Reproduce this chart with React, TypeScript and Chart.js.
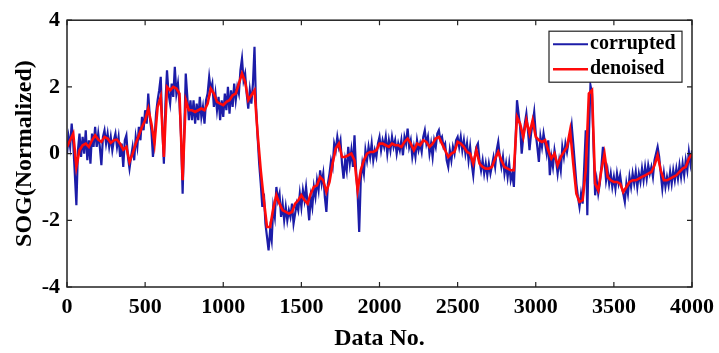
import React, { useEffect, useRef } from "react";
import { Chart, registerables } from "chart.js";

Chart.register(...registerables);

const seriesLabels = ["corrupted", "denoised"];
const seriesColors = ["#1c1ca8", "#ff0a0a"];
const xTicks = [0, 500, 1000, 1500, 2000, 2500, 3000, 3500, 4000];
const yTicks = [-4, -2, 0, 2, 4];
const corruptedStep = 10;
const denoisedStep = 20;

const corrupted = [
  0.0, 0.5, 0.2, 0.9, 0.3, -0.6, -1.55, 0.1, 0.6, -0.1, 0.5, 0.0, 0.7, -0.2, 0.4, -0.3, 0.6, 0.2, 0.8, 0.2,
  0.6, 0.2, -0.35, 0.5, 0.7, 0.3, 0.6, 0.2, 0.5, 0.1, 0.4, 0.6, 0.2, 0.5, -0.1, 0.3, -0.4, 0.4, 0.55, -0.1,
  -0.45, -0.1, 0.2, -0.2, 0.5, 0.2, 0.8, 0.4, 1.1, 0.7, 1.3, 0.9, 1.8, 1.1, 0.7, -0.1, 0.4, 1.2, 1.6, 1.9,
  2.3, 0.8, -0.3, 1.5, 2.5, 1.8, 1.5, 2.1, 1.7, 2.6, 1.8, 2.1, 1.5, 0.5, -1.2, 0.6, 2.4, 1.7, 1.0, 1.6,
  1.0, 1.6, 0.9, 1.5, 1.0, 1.7, 1.1, 1.4, 0.9, 1.6, 1.8, 2.3, 1.9, 2.1, 1.4, 1.8, 1.3, 1.7, 1.0, 1.6,
  1.1, 1.8, 1.3, 2.0, 1.2, 1.9, 1.4, 2.1, 1.6, 2.0, 1.8, 2.5, 2.85, 2.2, 2.4, 1.8, 1.35, 1.9, 1.5, 2.1,
  3.2, 1.4, 0.5, -0.3, -0.9, -1.6, -1.2, -2.1, -2.5, -2.9, -2.3, -2.6, -1.6, -1.9, -1.0, -1.4, -1.2, -1.9, -1.5, -2.0,
  -1.6, -2.0, -1.7, -1.9, -1.5, -2.1, -1.8, -1.5, -1.7, -1.2, -1.6, -1.1, -1.4, -1.0, -1.5, -2.0, -1.3, -1.6, -1.0, -1.3,
  -0.8, -1.1, -0.5, -0.9, -0.6, -1.3, -1.75, -0.9, -0.6, -0.2, -0.4, 0.3, 0.1, 0.5, 0.2, 0.4, -0.3, -0.75, -0.2, -0.5,
  0.2, -0.3, 0.1, -0.4, 0.55, -0.5, -1.2, -2.35, -0.8, -0.3, -0.6, 0.1, -0.2, 0.2, -0.1, 0.3, -0.2, 0.1, -0.1, 0.3,
  0.5, 0.1, 0.4, 0.2, 0.5, 0.0, 0.4, 0.1, 0.5, 0.2, 0.4, 0.0, 0.3, 0.1, 0.4, -0.05, 0.5, 0.3, 0.75, 0.2,
  0.4, -0.1, 0.2, -0.1, 0.4, 0.1, 0.3, 0.05, 0.5, 0.7, 0.3, 0.5, 0.0, 0.3, -0.1, 0.4, 0.2, 0.6, 0.7, 0.4,
  0.5, 0.2, 0.3, -0.2, -0.4, 0.1, -0.2, 0.2, 0.0, 0.4, 0.5, 0.2, 0.5, 0.1, 0.4, 0.0, 0.3, -0.2, 0.2, -0.3,
  -0.65, -0.1, 0.2, 0.3, -0.2, -0.5, -0.2, -0.6, -0.3, -0.65, -0.3, -0.6, -0.35, -0.1, -0.4, 0.1, 0.35, -0.1, -0.4, -0.1,
  -0.6, -0.3, -0.7, -0.3, -0.8, -0.6, -1.0, 0.3, 1.6, 1.2, 0.8, 0.0, 0.5, 0.9, 1.2, 0.7, 0.1, 0.6, 0.9, 1.25,
  0.6, 0.2, -0.25, 0.5, 0.2, 0.6, 0.3, 0.0, 0.4, -0.65, -0.1, -0.4, 0.1, -0.2, -0.6, -0.2, -0.5, 0.2, -0.1, 0.3,
  0.05, 0.35, 0.5, 0.85, 0.3, -0.3, -0.9, -1.3, -1.6, -1.2, -1.5, -0.4, 0.7, -1.85, 0.5, 2.05, 1.8, 0.2, -1.25, -0.8,
  -1.2, -0.9, -0.4, 0.2, -0.2, -0.8, -0.5, -0.9, -0.6, -1.0, -0.7, -1.05, -0.6, -0.9, -0.65, -1.0, -1.2, -1.45, -0.9, -1.2,
  -0.7, -1.0, -0.6, -0.9, -0.55, -1.0, -0.6, -0.85, -0.45, -0.8, -0.4, -0.75, -0.35, -0.6, -0.4, -0.7, -0.2, 0.0, 0.2, -0.1,
  -0.6, -1.05, -0.6, -1.0, -0.7, -0.95, -0.55, -0.9, -0.5, -0.8, -0.45, -0.75, -0.35, -0.7, -0.3, -0.65, -0.2, -0.5, 0.05, -0.3,
  0.1,
];

const denoised = [
  0.2, 0.4, 0.6, -0.4, 0.1, 0.25, 0.3, 0.2, 0.4, 0.55,
  0.42, 0.35, 0.5, 0.45, 0.32, 0.4, 0.42, 0.3, 0.12, 0.2,
  -0.25, 0.0, 0.3, 0.55, 0.8, 1.0, 1.35, 0.9, 0.3, 1.4,
  1.7, -0.1, 2.0, 1.9, 2.0, 1.95, 1.8, -0.8, 1.6, 1.3,
  1.3, 1.25, 1.3, 1.35, 1.3, 1.5, 1.95, 1.8, 1.55, 1.5,
  1.45, 1.55, 1.6, 1.75, 1.8, 2.1, 2.4, 2.15, 1.6, 1.75,
  1.9, 0.6, -0.5, -1.4, -2.2, -2.2, -1.65, -1.25, -1.5, -1.7,
  -1.75, -1.8, -1.75, -1.5, -1.4, -1.25, -1.4, -1.5, -1.2, -1.0,
  -0.95, -0.7, -0.8, -1.15, -0.85, -0.3, 0.15, 0.3, -0.1, -0.1,
  -0.05, 0.0, -0.2, -1.1, -0.5, -0.2, 0.0, 0.05, 0.05, 0.1,
  0.3, 0.3, 0.25, 0.2, 0.3, 0.25, 0.25, 0.2, 0.35, 0.45,
  0.3, 0.1, 0.3, 0.25, 0.4, 0.35, 0.2, 0.3, 0.45, 0.5,
  0.3, 0.1, -0.1, 0.0, 0.05, 0.35, 0.3, 0.2, 0.05, 0.0,
  -0.3, 0.1, -0.3, -0.4, -0.45, -0.45, -0.4, -0.15, 0.05, -0.2,
  -0.4, -0.45, -0.5, -0.5, 1.1, 0.9, 0.5, 1.0, 0.6, 1.0,
  0.5, 0.4, 0.35, 0.4, 0.1, -0.15, 0.0, -0.35, -0.1, 0.05,
  0.2, 0.7, -0.3, -1.2, -1.45, -1.4, -0.5, 1.8, 1.9, -0.9,
  -1.1, -0.5, 0.0, -0.7, -0.8, -0.85, -0.85, -0.9, -1.15, -1.0,
  -0.85, -0.8, -0.8, -0.75, -0.7, -0.65, -0.6, -0.55, -0.35, -0.05,
  -0.5, -0.8, -0.8, -0.75, -0.7, -0.65, -0.55, -0.45, -0.4, -0.15,
  0.0,
];

const FONT = "'Liberation Serif', 'Times New Roman', serif";

const framePlugin = {
  id: "matlabFrame",
  afterDraw(chart: any) {
    const { ctx, chartArea } = chart;
    const { left, right, top, bottom } = chartArea;
    const xs = chart.scales.x;
    const ys = chart.scales.y;
    ctx.save();
    ctx.strokeStyle = "#222";
    ctx.lineWidth = 1.5;
    ctx.strokeRect(left, top, right - left, bottom - top);
    ctx.lineWidth = 1.2;
    const tl = 5;
    ctx.beginPath();
    for (const v of xTicks) {
      const px = xs.getPixelForValue(v);
      ctx.moveTo(px, bottom);
      ctx.lineTo(px, bottom - tl);
      ctx.moveTo(px, top);
      ctx.lineTo(px, top + tl);
    }
    for (const v of yTicks) {
      const py = ys.getPixelForValue(v);
      ctx.moveTo(left, py);
      ctx.lineTo(left + tl, py);
      ctx.moveTo(right, py);
      ctx.lineTo(right - tl, py);
    }
    ctx.stroke();

    // legend box
    const bw = 133;
    const bh = 51;
    const bx = right - 10 - bw;
    const by = top + 11;
    ctx.fillStyle = "#fff";
    ctx.fillRect(bx, by, bw, bh);
    ctx.strokeStyle = "#222";
    ctx.lineWidth = 1.2;
    ctx.strokeRect(bx, by, bw, bh);
    ctx.font = `bold 20px ${FONT}`;
    ctx.textBaseline = "middle";
    ctx.textAlign = "left";
    seriesLabels.forEach((lab, i) => {
      const cy = by + 13 + i * 25;
      ctx.strokeStyle = seriesColors[i];
      ctx.lineWidth = i === 0 ? 2 : 2.5;
      ctx.beginPath();
      ctx.moveTo(bx + 4, cy);
      ctx.lineTo(bx + 39, cy);
      ctx.stroke();
      ctx.fillStyle = "#000";
      ctx.fillText(lab, bx + 41, cy);
    });
    ctx.restore();
  },
};

export default function App() {
  const ref = useRef<HTMLCanvasElement | null>(null);

  useEffect(() => {
    if (!ref.current) return;
    const corruptedPts = corrupted.map((v, i) => ({ x: i * corruptedStep, y: v }));
    const denoisedPts = denoised.map((v, i) => ({ x: i * denoisedStep, y: v }));
    const chart = new Chart(ref.current, {
      type: "line",
      data: {
        datasets: [
          {
            label: seriesLabels[0],
            data: corruptedPts,
            borderColor: seriesColors[0],
            borderWidth: 2.2,
            pointRadius: 0,
            tension: 0,
            order: 1,
          },
          {
            label: seriesLabels[1],
            data: denoisedPts,
            borderColor: seriesColors[1],
            borderWidth: 2.6,
            pointRadius: 0,
            tension: 0,
            order: 0,
          },
        ],
      },
      options: {
        animation: false,
        responsive: false,
        devicePixelRatio: 1,
        layout: { padding: { top: 19, right: 27, left: 0, bottom: 0 } },
        plugins: { legend: { display: false }, tooltip: { enabled: false } },
        scales: {
          x: {
            type: "linear",
            min: 0,
            max: 4000,
            afterBuildTicks: (s: any) => {
              s.ticks = xTicks.map((v) => ({ value: v }));
            },
            afterFit: (s: any) => {
              s.height = 66;
              s.paddingRight = 0;
              s.paddingLeft = 0;
            },
            grid: { display: false, drawTicks: false },
            border: { display: false },
            ticks: {
              color: "#000",
              padding: 7,
              maxRotation: 0,
              callback: (v: any) => String(v),
              font: { family: FONT, size: 22, weight: "bold" },
            },
            title: {
              display: true,
              text: "Data No.",
              color: "#000",
              padding: { top: 5, bottom: 0 },
              font: { family: FONT, size: 24, weight: "bold" },
            },
          },
          y: {
            type: "linear",
            min: -4,
            max: 4,
            afterBuildTicks: (s: any) => {
              s.ticks = yTicks.map((v) => ({ value: v }));
            },
            afterFit: (s: any) => {
              s.width = 67;
            },
            grid: { display: false, drawTicks: false },
            border: { display: false },
            ticks: {
              color: "#000",
              padding: 7,
              callback: (v: any) => String(v),
              font: { family: FONT, size: 22, weight: "bold" },
            },
            title: {
              display: true,
              text: "SOG(Normalized)",
              color: "#000",
              padding: { top: 10, bottom: 0 },
              font: { family: FONT, size: 24, weight: "bold" },
            },
          },
        },
      },
      plugins: [framePlugin],
    });
    return () => chart.destroy();
  }, []);

  return (
    <div style={{ position: "fixed", left: 0, top: 0, width: 719, height: 353, background: "#fff" }}>
      <canvas ref={ref} width={719} height={353} style={{ display: "block", width: 719, height: 353 }} />
    </div>
  );
}
